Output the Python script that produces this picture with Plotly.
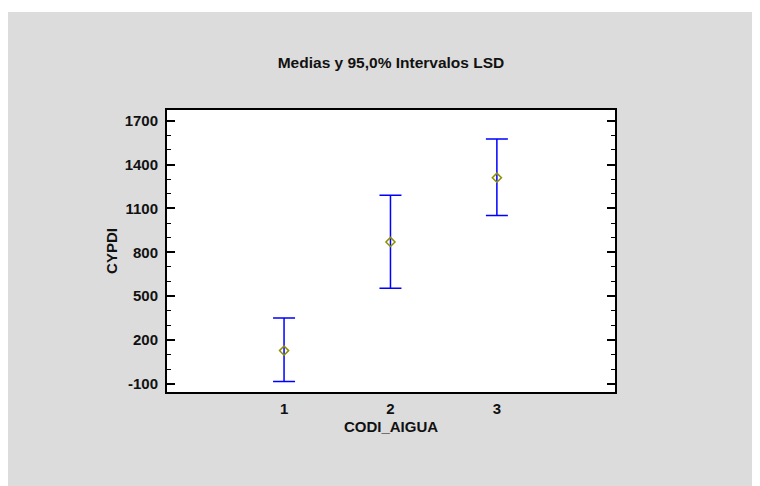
import plotly.graph_objects as go

groups = [1, 2, 3]
means = [128, 871, 1310]
lower = [-84, 554, 1051]
upper = [351, 1190, 1575]

y_ticks = [-100, 200, 500, 800, 1100, 1400, 1700]
x_ticks = [1, 2, 3]

err_plus = [u - m for u, m in zip(upper, means)]
err_minus = [m - l for m, l in zip(means, lower)]

OFF = 8  # page body margin
W, H = 760 - OFF, 486 - OFF
L, R, T, B = 167 - OFF, 615.5 - OFF, 110 - OFF, 392 - OFF

fig = go.Figure()
fig.add_trace(go.Scatter(
    x=groups, y=means, mode="markers",
    marker=dict(symbol="diamond-open", size=7, color="#8f8f00", line=dict(width=1.5)),
    error_y=dict(type="data", symmetric=False, array=err_plus, arrayminus=err_minus,
                 color="#0000ff", thickness=1.5, width=11),
    showlegend=False,
))

font = dict(family="Liberation Sans, Arial, sans-serif", size=15, color="#111111", weight="bold")
tfont = dict(family="Liberation Sans, Arial, sans-serif", size=15.5, color="#111111", weight="bold")

pw = R - L
ph = B - T
fig.update_layout(
    width=W, height=H,
    margin=dict(l=L, r=W - R, t=T, b=H - B, pad=0),
    paper_bgcolor="#dcdcdc",
    plot_bgcolor="white",
    font=font,
    title=dict(text="Medias y 95,0% Intervalos LSD", x=(391 - OFF) / W,
               xanchor="center", y=1 - (62.5 - OFF) / H, yanchor="middle", font=tfont),
    xaxis=dict(
        range=[-0.1, 4.11], tickvals=x_ticks, ticktext=[str(v) for v in x_ticks],
        ticks="", showgrid=False, zeroline=False,
        showline=True, mirror=True, linecolor="black", linewidth=2,
        title=dict(text="CODI_AIGUA", font=font, standoff=5),
        tickfont=font, ticklabelstandoff=2,
    ),
    yaxis=dict(
        range=[-155, 1773], tickvals=y_ticks, ticktext=[str(v) for v in y_ticks],
        ticks="inside", ticklen=8, tickwidth=1.5, tickcolor="black",
        minor=dict(dtick=100, tick0=-100, ticks="inside", ticklen=4, tickwidth=1, tickcolor="black", showgrid=False),
        showgrid=False, zeroline=False,
        showline=True, mirror="allticks", linecolor="black", linewidth=2,
        title=dict(text="CYPDI", font=font, standoff=3),
        tickfont=font, ticklabelstandoff=4,
    ),
    shapes=[
        dict(type="rect", xref="paper", yref="paper",
             x0=(0 - L) / pw - 0.05, x1=(W - L) / pw + 0.05,
             y0=(B - 4) / ph, y1=(B + 20) / ph,
             fillcolor="white", line=dict(width=0), layer="above"),
    ],
)

fig.write_html("out.html")
